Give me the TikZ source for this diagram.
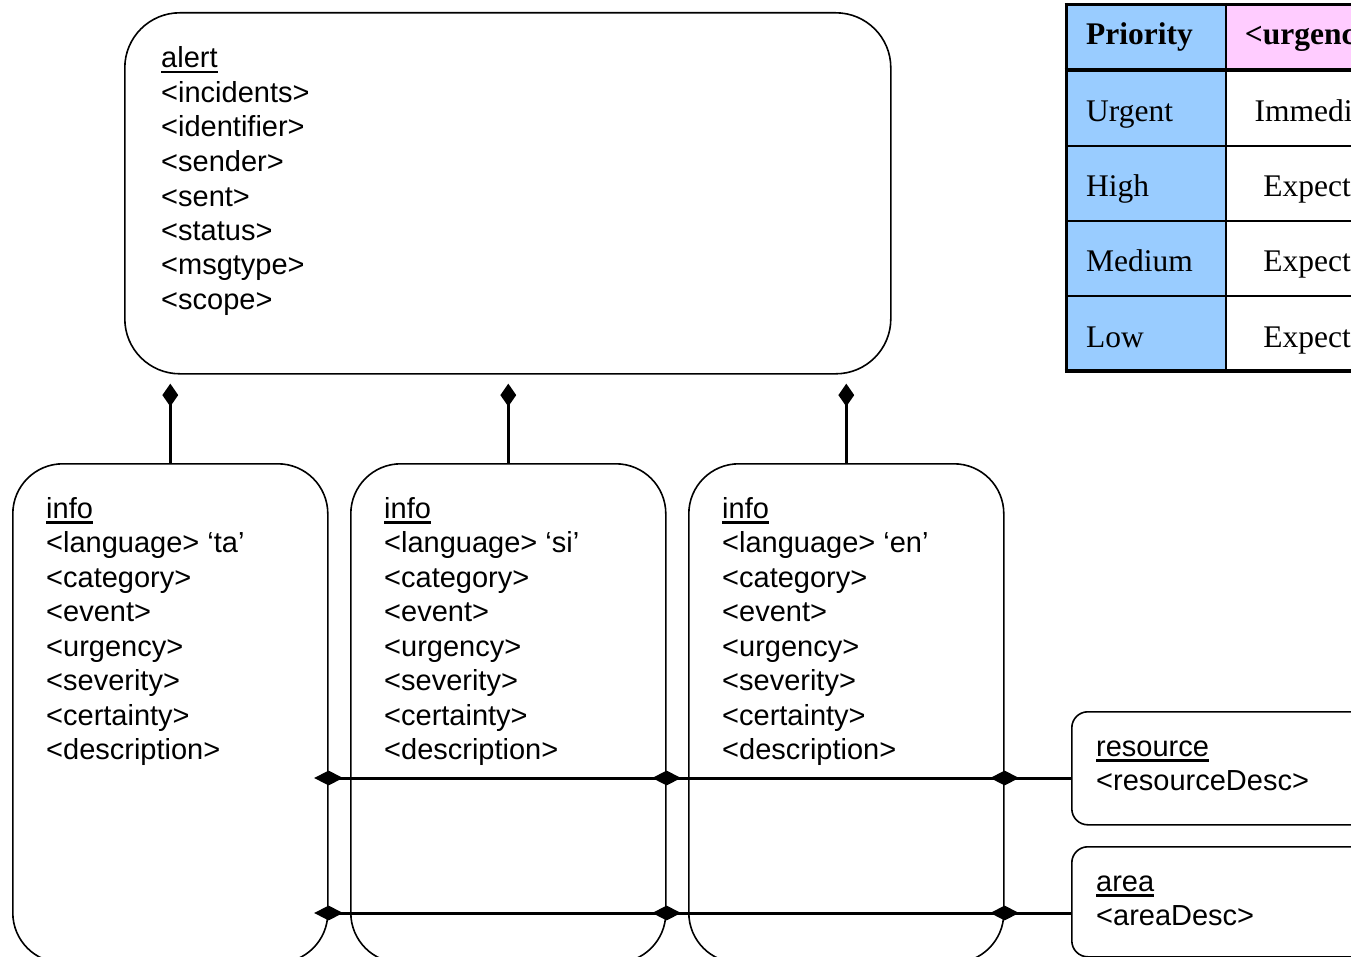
\documentclass[tikz,border=0pt]{standalone}
\usepackage{fontspec}
\setmainfont{Liberation Serif}
\setsansfont{Liberation Sans}
\usetikzlibrary{shapes.geometric}
\definecolor{cellblue}{HTML}{99CCFF}
\definecolor{cellpink}{HTML}{FFCCFF}
\newcommand\myul[1]{\setbox0\hbox{#1}\rlap{\rule[-5.5pt]{\wd0}{2.5pt}}\box0}
\begin{document}
\begin{tikzpicture}[x=1pt,y=-1pt,
  umlbox/.style={draw, line width=1.6pt, rounded corners=#1, anchor=north west, inner sep=0pt},
  boxtxt/.style={anchor=base west, align=left, inner sep=0pt, font=\sffamily\fontsize{29}{34.5}\selectfont},
  conn/.style={line width=3pt},
  vdia/.style={diamond, fill=black, draw=none, inner sep=0pt, minimum width=16pt, minimum height=23pt},
  hdia/.style={diamond, fill=black, draw=none, inner sep=0pt, minimum width=29pt, minimum height=15pt},
  celltxt/.style={inner sep=0pt, font=\fontsize{31.5}{36}\selectfont},
  thick line/.style={line width=3.5pt},
  thin line/.style={line width=1.5pt}]
\useasboundingbox (0,0) rectangle (1351,957);
\clip (0,0) rectangle (1351,957);

% boxes
\node[umlbox=55pt, minimum width=766pt, minimum height=361pt] (alert) at (124,12) {};
\node[umlbox=50pt, minimum width=315pt, minimum height=499pt] (info1) at (12,463) {};
\node[umlbox=50pt, minimum width=315pt, minimum height=499pt] (info2) at (350,463) {};
\node[umlbox=50pt, minimum width=315pt, minimum height=499pt] (info3) at (688,463) {};
\node[umlbox=16pt, minimum width=400pt, minimum height=113pt] (resource) at (1071,711) {};
\node[umlbox=16pt, minimum width=400pt, minimum height=110pt] (area) at (1071,846) {};

% texts (anchor base = baseline of the last line)
\node[boxtxt] (alerttxt) at (161,309.5) {\myul{alert}\\<incidents>\\<identifier>\\<sender>\\<sent>\\<status>\\<msgtype>\\<scope>};
\node[boxtxt] (info1txt) at (46,759.5) {\myul{info}\\<language> ‘ta’\\<category>\\<event>\\<urgency>\\<severity>\\<certainty>\\<description>};
\node[boxtxt] (info2txt) at (384,759.5) {\myul{info}\\<language> ‘si’\\<category>\\<event>\\<urgency>\\<severity>\\<certainty>\\<description>};
\node[boxtxt] (info3txt) at (722,759.5) {\myul{info}\\<language> ‘en’\\<category>\\<event>\\<urgency>\\<severity>\\<certainty>\\<description>};
\node[boxtxt] (restxt) at (1096,790.5) {\myul{resource}\\<resourceDesc>};
\node[boxtxt] (areatxt) at (1096,925.5) {\myul{area}\\<areaDesc>};

% vertical aggregation connectors
\node[vdia] (d1) at ([yshift=-20.5pt]info1.north |- alert.south) {};
\node[vdia] (d2) at ([yshift=-20.5pt]info2.north |- alert.south) {};
\node[vdia] (d3) at ([yshift=-20.5pt]info3.north |- alert.south) {};
\draw[conn] (info1.north) -- (d1.center);
\draw[conn] (info2.north) -- (d2.center);
\draw[conn] (info3.north) -- (d3.center);

% horizontal connectors
\coordinate (rl) at ([yshift=-67pt]resource.north west);
\coordinate (al) at ([yshift=-67pt]area.north west);
\draw[conn] (rl) -- (info1.east |- rl);
\draw[conn] (al) -- (info1.east |- al);
\node[hdia] (r1) at (info1.east |- rl) {};
\node[hdia] (r2) at (info2.east |- rl) {};
\node[hdia] (r3) at (info3.east |- rl) {};
\node[hdia] (a1) at (info1.east |- al) {};
\node[hdia] (a2) at (info2.east |- al) {};
\node[hdia] (a3) at (info3.east |- al) {};

% priority table
\fill[cellblue] (1066,3) rectangle (1226,372);
\fill[cellpink] (1226,3) rectangle (1430,71);
\draw[thick line] (1064.5,4.5) -- (1430,4.5);
\draw[line width=4pt] (1064.5,70.5) -- (1430,70.5);
\draw[thin line] (1066,146) -- (1430,146);
\draw[thin line] (1066,221) -- (1430,221);
\draw[thin line] (1066,296) -- (1430,296);
\draw[thick line] (1064.5,371) -- (1430,371);
\draw[line width=3pt] (1066,3) -- (1066,372.5);
\draw[line width=2pt] (1226,3) -- (1226,372);

\node[celltxt, anchor=base west] (hpri) at (1086,45) {\bfseries Priority};
\node[celltxt, anchor=base] (hurg) at (1317,45) {\bfseries <urgency>};
\node[celltxt, anchor=base west] (pu) at (1086,122) {Urgent};
\node[celltxt, anchor=base west] (ph) at (1086,197) {High};
\node[celltxt, anchor=base west] (pm) at (1086,272) {Medium};
\node[celltxt, anchor=base west] (pl) at (1086,347) {Low};
\node[celltxt, anchor=base] (vu) at (1322,122) {Immediate};
\node[celltxt, anchor=base] (vh) at (1322,197) {Expected};
\node[celltxt, anchor=base] (vm) at (1322,272) {Expected};
\node[celltxt, anchor=base] (vl) at (1322,347) {Expected};
\end{tikzpicture}
\end{document}
